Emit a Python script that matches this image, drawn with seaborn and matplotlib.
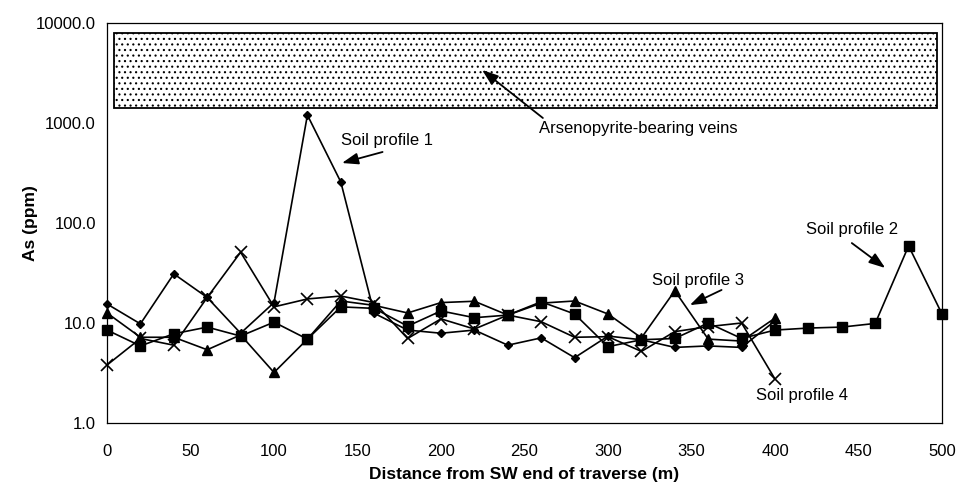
import numpy as np
import pandas as pd
import matplotlib
matplotlib.use("Agg")
import matplotlib.pyplot as plt
from matplotlib.patches import Rectangle
import seaborn as sns

# distances (m)
dist_short = list(range(0, 401, 20))
dist_long = list(range(0, 501, 20))

# As (ppm)
profile1 = [15.5, 9.8, 31, 18, 7.9, 16, 1200, 257, 12.5, 8.5, 7.9,
            8.5, 6.0, 7.1, 4.5, 7.4, 6.8, 5.7, 5.9, 5.7, 10.5]
profile2 = [8.5, 5.9, 7.8, 9.1, 7.4, 10.2, 6.9, 14.5, 14, 9.3, 13.2,
            11.3, 12, 16.3, 12.3, 5.8, 6.8, 7.0, 10, 7.0, 8.5,
            8.9, 9.1, 9.9, 59, 12.3]
profile3 = [12.6, 7.2, 7.2, 5.4, 7.6, 3.2, 6.9, 16.6, 15, 12.6, 16,
            16.5, 12, 15.8, 16.6, 12.3, 7.1, 21, 6.9, 6.6, 11.2]
profile4 = [3.8, 7.0, 6.0, 18, 51, 14.5, 17.4, 18.6, 16, 7.0, 11,
            8.7, 12, 10.3, 7.2, 7.3, 5.2, 8.2, 9.2, 10, 2.75]

# vein band (x from, x to, ppm low, ppm high)
vein_x = [4, 497]
vein_y = [1400, 8000]

xticks = list(range(0, 501, 50))
yticks = [1, 10, 100, 1000, 10000]

sns.set_style("white")
plt.rcParams['font.family'] = ['Liberation Sans', 'DejaVu Sans']
plt.rcParams['text.color'] = 'black'
plt.rcParams['axes.labelcolor'] = 'black'
plt.rcParams['hatch.linewidth'] = 0.8
plt.rcParams['hatch.color'] = '#555555'

fig = plt.figure(figsize=(9.58, 4.82), dpi=100)
ax = fig.add_axes([0.1117, 0.1224, 0.8716, 0.8299])

# arsenopyrite-bearing veins box
ax.add_patch(Rectangle((vein_x[0], vein_y[0]), vein_x[1] - vein_x[0],
                       vein_y[1] - vein_y[0], facecolor="white",
                       edgecolor="black", linewidth=1.3, hatch="...", zorder=1))

series = [
    (dist_short, profile1, "D", 4, 1.0),
    (dist_long, profile2, "s", 7, 1.0),
    (dist_short, profile3, "^", 7, 1.0),
    (dist_short, profile4, "x", 8, 1.2),
]
for xs, ys, mk, ms, mew in series:
    sns.lineplot(x=xs, y=ys, ax=ax, color="black", linewidth=1.2,
                 marker=mk, markersize=ms, markeredgewidth=mew,
                 markeredgecolor="black", markerfacecolor="black",
                 zorder=3, clip_on=False)

ax.set_yscale("log")
ax.set_xlim(0, 500)
ax.set_ylim(1, 10000)
ax.set_xticks(xticks)
ax.set_yticks(yticks)
ax.set_yticklabels([f"{v:.1f}" for v in yticks])
ax.minorticks_off()
ax.tick_params(axis="x", direction="inout", length=8, width=0.8,
               labelsize=12, pad=11, colors="black")
ax.tick_params(axis="y", direction="out", length=4, width=0.8,
               labelsize=12, pad=4, colors="black")
for s in ax.spines.values():
    s.set_color("black")
    s.set_linewidth(0.9)

ax.set_xlabel("Distance from SW end of traverse (m)", fontsize=12.5,
              fontweight="bold", labelpad=6)
ax.set_ylabel("As (ppm)", fontsize=12.5, fontweight="bold")
ax.yaxis.set_label_coords(-0.083, 0.5)

arrow = dict(arrowstyle="-|>,head_length=0.7,head_width=0.25", color="black",
             linewidth=1.3, mutation_scale=14, shrinkA=0, shrinkB=0)
fs = 12
ax.annotate("", xy=(224.6, 3390), xytext=(261, 1122), arrowprops=arrow)
ax.text(318, 891, "Arsenopyrite-bearing veins", fontsize=fs,
        ha="center", va="center")
ax.annotate("", xy=(140.7, 398), xytext=(165, 513), arrowprops=arrow)
ax.text(167.4, 661, "Soil profile 1", fontsize=fs, ha="center", va="center")
ax.annotate("", xy=(466, 35.5), xytext=(446, 63), arrowprops=arrow)
ax.text(446.4, 87, "Soil profile 2", fontsize=fs, ha="center", va="center")
ax.annotate("", xy=(349, 15.1), xytext=(368, 21.4), arrowprops=arrow)
ax.text(354, 26.9, "Soil profile 3", fontsize=fs, ha="center", va="center")
ax.text(415.9, 1.9, "Soil profile 4", fontsize=fs, ha="center", va="center")

fig.savefig("out.png", dpi=100)
